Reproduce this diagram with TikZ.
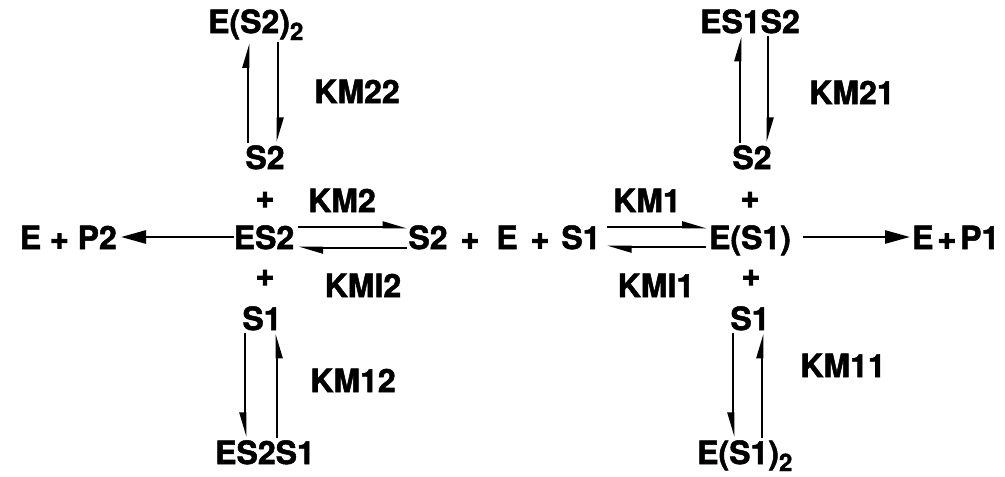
\documentclass[tikz,border=0pt]{standalone}
\usepackage{fontspec}
\setmainfont{TeX Gyre Heros}[BoldFeatures={FakeBold=1.6}]
\newfontfamily\heavyfont{TeX Gyre Heros}[BoldFeatures={FakeBold=3.5}]
\usetikzlibrary{arrows.meta}
\newcommand{\lowsub}[1]{\raisebox{-7pt}{\fontsize{24}{24}\selectfont #1}}
\newcommand{\hplus}{{\heavyfont\bfseries +}}
\begin{document}
\begin{tikzpicture}[x=1pt,y=-1pt,
  lbl/.style={inner sep=0pt, anchor=base, font=\fontsize{32}{32}\selectfont\bfseries},
  pl/.style={lbl, anchor=center},
  ln/.style={line width=2.6pt},
  hl/.style={ln, -{Triangle[harpoon, length=20pt, width=11pt]}},
  hr/.style={ln, -{Triangle[harpoon, swap, length=20pt, width=11pt]}},
  prod/.style={ln, -{Triangle[length=25pt, width=13pt]}},
  vs/.style={shorten <=2pt, shorten >=3pt}]
\fill[white] (0,0) rectangle (1005,477);
\useasboundingbox (0,0) rectangle (1005,477);

% top row
\node[lbl, anchor=base west] (es2s2) at (208,33) {E(S2)\lowsub{2}};
\node[lbl] (es1s2) at (750,33) {ES1S2};
\node[lbl] (s2a) at (265,169) {S2};
\node[lbl] (s2b) at (752,169) {S2};
\node[pl] (pa) at (265,200) {\hplus};
\node[pl] (pb) at (750,200) {\hplus};

% main row
\node[lbl, anchor=base east] (ep2) at (117,249) {E \hplus{} P2};
\node[lbl] (es2) at (264,249) {ES2};
\node[lbl] (s2m) at (428,249) {S2};
\node[lbl] (pm1) at (470,249) {\hplus};
\node[lbl] (em) at (507,249) {E};
\node[lbl] (pm2) at (540,249) {\hplus};
\node[lbl] (s1m) at (581,249) {S1};
\node[lbl] (es1) at (750,249) {E(S1)};
\node[lbl, anchor=base west] (ep1) at (912,249) {E\hspace{4pt}\hplus\hspace{4pt}P1};

% lower
\node[pl] (pc) at (265,278) {\hplus};
\node[pl] (pd) at (751,278) {\hplus};
\node[lbl] (s1a) at (262,330) {S1};
\node[lbl] (s1b) at (750,330) {S1};
\node[lbl] (es2s1) at (265,464) {ES2S1};
\node[lbl, anchor=base west] (es1s1) at (697,464) {E(S1)\lowsub{2}};

% constants
\node[lbl] (km22) at (357,103) {KM22};
\node[lbl] (km21) at (852,104) {KM21};
\node[lbl] (km2) at (342,212) {KM2};
\node[lbl] (km1) at (647,212) {KM1};
\node[lbl] (kmi2) at (363,297) {KMI2};
\node[lbl] (kmi1) at (656,297) {KMI1};
\node[lbl] (km12) at (353,392) {KM12};
\node[lbl] (km11) at (843,377) {KM11};

% vertical equilibria, top
\draw[hl, vs] ([xshift=-17pt]s2a.north) -- ([xshift=-17pt]s2a.north |- es2s2.south);
\draw[hl, vs] ([xshift=13pt]s2a.north |- es2s2.south) -- ([xshift=13pt]s2a.north);
\draw[hl, vs] ([xshift=-12pt]s2b.north) -- ([xshift=-12pt]s2b.north |- es1s2.south);
\draw[hl, vs] ([xshift=16pt]s2b.north |- es1s2.south) -- ([xshift=16pt]s2b.north);

% vertical equilibria, bottom
\draw[hr, vs] ([xshift=-17pt]s1a.south) -- ([xshift=-17pt]s1a.south |- es2s1.north);
\draw[hr, vs] ([xshift=15pt]s1a.south |- es2s1.north) -- ([xshift=15pt]s1a.south);
\draw[hr, vs] ([xshift=-17pt]s1b.south) -- ([xshift=-17pt]s1b.south |- es1s1.north);
\draw[hl, vs] ([xshift=12pt]s1b.south |- es1s1.north) -- ([xshift=12pt]s1b.south);

% horizontal equilibria
\draw[hl, shorten <=4pt, shorten >=1pt] ([yshift=22pt]es2.base east) -- ([yshift=22pt]s2m.base west);
\draw[hl, shorten <=1pt, shorten >=4pt] ([yshift=1pt]s2m.base west) -- ([yshift=1pt]es2.base east);
\draw[hl, shorten <=6pt, shorten >=2pt] ([yshift=22pt]s1m.base east) -- ([yshift=22pt]es1.base west);
\draw[hl, shorten <=3pt, shorten >=6pt] ([yshift=2pt]es1.base west) -- ([yshift=2pt]s1m.base east);

% product steps
\draw[prod, shorten >=4pt] ([yshift=12pt]es2.base west) -- ([yshift=12pt]ep2.base east);
\draw[prod, shorten <=12pt, shorten >=2pt] ([yshift=12pt]es1.base east) -- ([yshift=12pt]ep1.base west);
\end{tikzpicture}
\end{document}
